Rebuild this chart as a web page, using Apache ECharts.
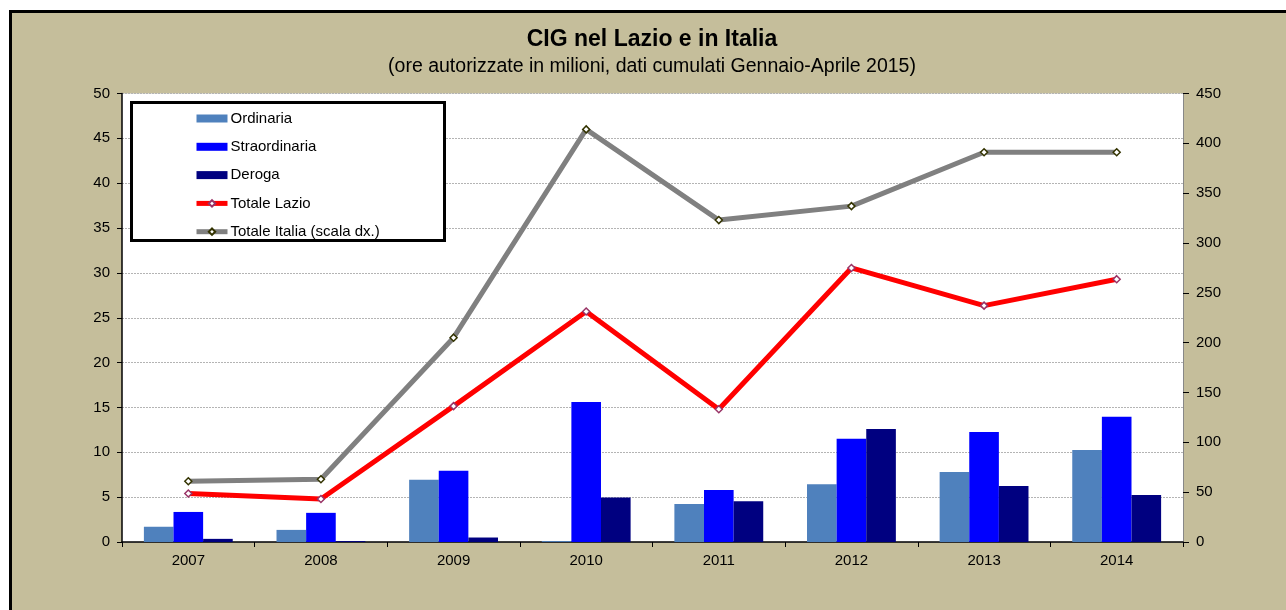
<!DOCTYPE html>
<html>
<head>
<meta charset="utf-8">
<script src="https://cdn.jsdelivr.net/npm/echarts@6/dist/echarts.min.js"></script>
<style>
  html, body { margin: 0; padding: 0; background: #ffffff; }
  #frame { position: absolute; left: 9px; top: 10px; width: 1290px; height: 610px;
           background: #C5BE9B; border-top: 3px solid #000; border-left: 3px solid #000; }
  #chart { position: absolute; left: 0; top: 0; width: 1286px; height: 610px; }
</style>
</head>
<body>
<div id="frame"></div>
<div id="chart"></div>
<script>
const titleText = 'CIG nel Lazio e in Italia';
const subtitleText = '(ore autorizzate in milioni, dati cumulati Gennaio-Aprile 2015)';
const categories = ['2007', '2008', '2009', '2010', '2011', '2012', '2013', '2014'];
const seriesNames = ['Ordinaria', 'Straordinaria', 'Deroga', 'Totale Lazio', 'Totale Italia (scala dx.)'];
const ordinaria = [1.7, 1.35, 6.95, 0.1, 4.25, 6.45, 7.8, 10.25];
const straordinaria = [3.35, 3.25, 7.95, 15.6, 5.8, 11.5, 12.25, 13.95];
const deroga = [0.35, 0.1, 0.5, 4.95, 4.55, 12.6, 6.25, 5.25];
const totaleLazio = [5.4, 4.8, 15.15, 25.7, 14.8, 30.55, 26.35, 29.3];
const totaleItalia = [61, 63, 205, 414, 323, 337, 391, 391];
const leftTicks = { min: 0, max: 50, interval: 5 };
const rightTicks = { min: 0, max: 450, interval: 50 };

const FONT = '"Liberation Sans", Arial, sans-serif';
const chart = echarts.init(document.getElementById('chart'), null, { renderer: 'canvas' });

chart.setOption({
  backgroundColor: 'transparent',
  animation: false,
  textStyle: { fontFamily: FONT },
  title: [
    { text: titleText, left: 652, textAlign: 'center', top: 28, padding: 0,
      textStyle: { fontFamily: FONT, fontSize: 23, fontWeight: 'bold', color: '#000' } },
    { text: subtitleText, left: 652, textAlign: 'center', top: 57, padding: 0,
      textStyle: { fontFamily: FONT, fontSize: 19.5, fontWeight: 'normal', color: '#000' } }
  ],
  grid: { left: 122, right: 103, top: 93.5, bottom: 68, show: true,
          backgroundColor: '#ffffff', borderWidth: 0 },
  graphic: [
    { type: 'rect', z: 3, shape: { x: 131.5, y: 102.5, width: 313, height: 138 },
      style: { fill: '#ffffff', stroke: '#000000', lineWidth: 3 } }
  ],
  legend: {
    orient: 'vertical', left: 194, top: 111, z: 5, padding: 0,
    itemWidth: 31, itemHeight: 8, itemGap: 13.3,
    data: [
      { name: seriesNames[0], icon: 'rect' },
      { name: seriesNames[1], icon: 'rect' },
      { name: seriesNames[2], icon: 'rect' },
      { name: seriesNames[3] },
      { name: seriesNames[4] }
    ],
    textStyle: { fontFamily: FONT, fontSize: 15, lineHeight: 15, color: '#000', padding: [0, 0, 0, -2] },
    lineStyle: { width: 5 }
  },
  xAxis: {
    type: 'category', data: categories,
    axisLine: { lineStyle: { color: '#000', width: 1.5 } },
    axisTick: { show: true, alignWithLabel: false, length: 5, lineStyle: { color: '#000' } },
    axisLabel: { fontSize: 15, color: '#000', margin: 11, fontFamily: FONT },
    splitLine: { show: false }
  },
  yAxis: [
    { type: 'value', position: 'left', min: leftTicks.min, max: leftTicks.max, interval: leftTicks.interval,
      axisLine: { show: true, lineStyle: { color: '#000', width: 1.5 } },
      axisTick: { show: true, length: 5, lineStyle: { color: '#000' } },
      axisLabel: { fontSize: 15, color: '#000', margin: 12, fontFamily: FONT },
      splitLine: { show: true, lineStyle: { color: '#b4b4b4', type: [2, 1], width: 1 } } },
    { type: 'value', position: 'right', min: rightTicks.min, max: rightTicks.max, interval: rightTicks.interval,
      axisLine: { show: true, lineStyle: { color: '#888', width: 1 } },
      axisTick: { show: true, length: 6, lineStyle: { color: '#000' } },
      axisLabel: { fontSize: 15, color: '#000', margin: 13, fontFamily: FONT },
      splitLine: { show: false } }
  ],
  series: [
    { name: seriesNames[0], type: 'bar', data: ordinaria, yAxisIndex: 0,
      barGap: '0%', barCategoryGap: '33%', itemStyle: { color: '#4F81BD' } },
    { name: seriesNames[1], type: 'bar', data: straordinaria, yAxisIndex: 0,
      barGap: '0%', barCategoryGap: '33%', itemStyle: { color: '#0000FF' } },
    { name: seriesNames[2], type: 'bar', data: deroga, yAxisIndex: 0,
      barGap: '0%', barCategoryGap: '33%', itemStyle: { color: '#000080' } },
    { name: seriesNames[3], type: 'line', data: totaleLazio, yAxisIndex: 0, z: 6,
      symbol: 'diamond', symbolSize: 7, showAllSymbol: true,
      lineStyle: { color: '#FF0000', width: 5 },
      itemStyle: { color: '#ffffff', borderColor: '#993366', borderWidth: 1.5 } },
    { name: seriesNames[4], type: 'line', data: totaleItalia, yAxisIndex: 1, z: 6,
      symbol: 'diamond', symbolSize: 7, showAllSymbol: true,
      lineStyle: { color: '#808080', width: 5 },
      itemStyle: { color: '#ffffff', borderColor: '#333300', borderWidth: 1.5 } }
  ]
});
</script>
</body>
</html>
